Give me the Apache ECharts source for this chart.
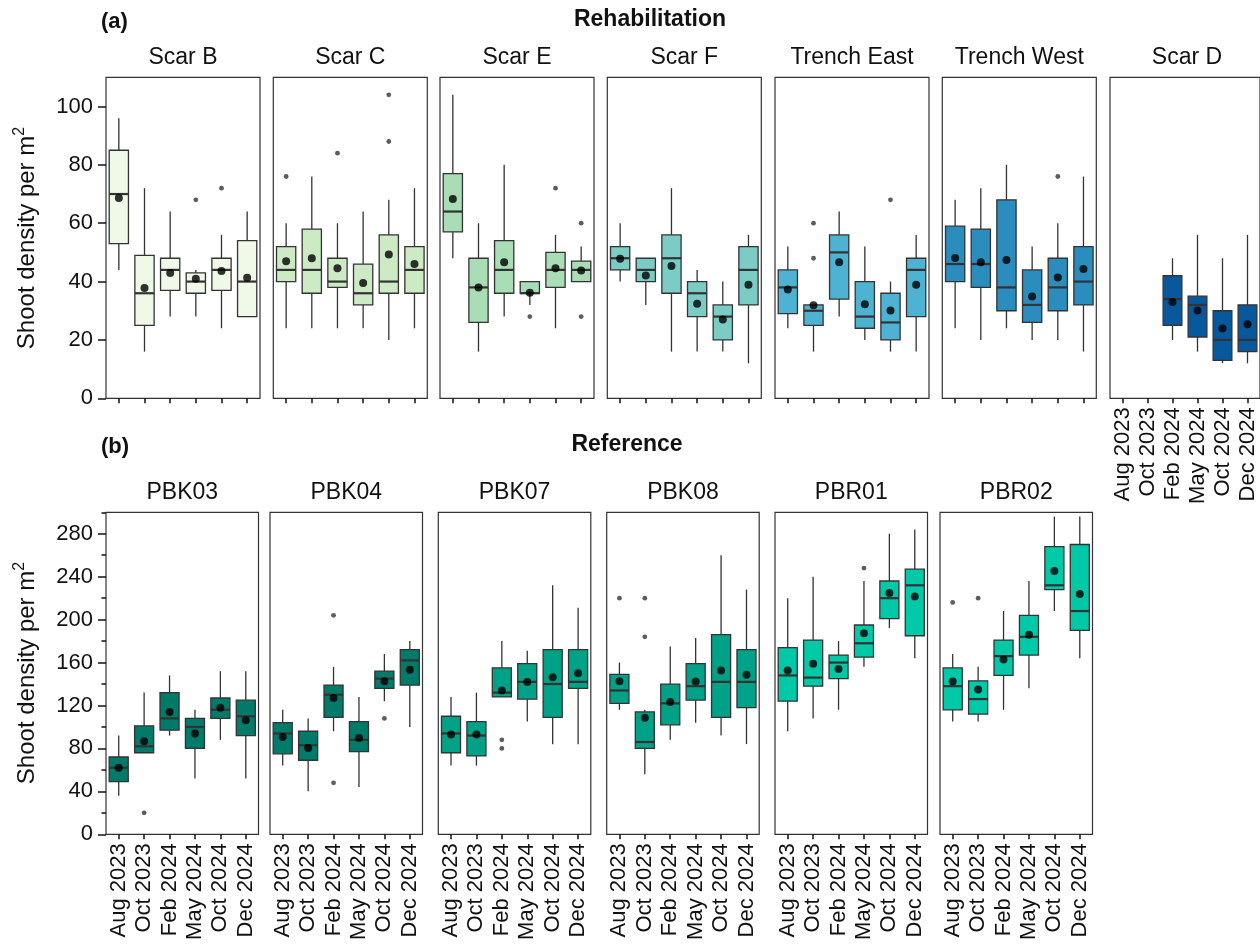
<!DOCTYPE html>
<html><head><meta charset="utf-8">
<script src="https://cdn.jsdelivr.net/npm/echarts@6/dist/echarts.min.js"></script>
<style>html,body{margin:0;padding:0;background:#fff}#c{width:1260px;height:946px}</style>
</head><body><div id="c"></div><script>
// ---------------- DATA ----------------
const months = ['Aug 2023','Oct 2023','Feb 2024','May 2024','Oct 2024','Dec 2024'];
const rehabSites = ['Scar B','Scar C','Scar E','Scar F','Trench East','Trench West','Scar D'];
const refSites = ['PBK03','PBK04','PBK07','PBK08','PBR01','PBR02'];
const rehabColors = ['#f0f9e8','#ccebc5','#a8ddb5','#7bccc4','#4eb3d3','#2b8cbe','#08589e'];
const refColors = ['#007a69','#007a69','#00a287','#00a287','#00c9a8','#00c9a8'];
const rehabTicks = [0,20,40,60,80,100];
const refTicks = [0,40,80,120,160,200,240,280];
const refMinorTicks = [20,60,100,140,180,220,260,300];

// box stats per month: [lower whisker, Q1, median, Q3, upper whisker]
const scarB = [[44,53,70,85,96],[16,25,36,49,72],[28,37,44,48,64],[28,36,40,43,44],[24,37,44,48,56],[28,28,40,54,64]];
const scarBMean = [68.6,37.8,42.9,41,43.6,41.3];
const scarBOut = [[3,68],[4,72]];

const scarC = [[24,40,44,52,60],[24,36,44,58,76],[24,38,40,48,60],[24,32,36,46,64],[20,36,40,56,68],[24,36,44,52,72]];
const scarCMean = [47,48,44.6,39.5,49.3,46];
const scarCOut = [[0,76],[2,84],[4,88],[4,104]];

const scarE = [[48,57,64,77,104],[16,26,38,48,60],[28,36,44,54,80],[32,36,36,40,40],[24,38,44,50,56],[40,40,44,47,52]];
const scarEMean = [68.3,38,46.6,36.2,44.6,43.8];
const scarEOut = [[3,28],[4,72],[5,60],[5,28]];

const scarF = [[40,44,48,52,60],[32,40,44,48,48],[16,36,48,56,72],[16,28,36,40,44],[16,20,28,32,40],[12,32,44,52,56]];
const scarFMean = [47.8,42.1,45.3,32.4,27,38.9];
const scarFOut = [];

const trenchEast = [[24,29,38,44,52],[16,25,30,32,32],[28,34,50,56,64],[20,24,28,40,52],[16,20,26,36,40],[16,28,44,48,56]];
const trenchEastMean = [37.3,31.9,46.6,32.2,30.1,38.9];
const trenchEastOut = [[1,48],[1,60],[4,68]];

const trenchWest = [[24,40,46,59,68],[20,38,46,58,72],[24,30,38,68,80],[20,26,32,44,52],[20,30,38,48,60],[16,32,40,52,76]];
const trenchWestMean = [48.1,46.6,47.4,34.9,41.4,44.3];
const trenchWestOut = [[4,76]];

const scarD = [null,null,[20,25,34,42,48],[16,21,32,35,56],[12,13,20,30,48],[12,16,20,32,56]];
const scarDMean = [null,null,33,30.1,23.9,25.4];
const scarDOut = [];

const pbk03 = [[36,49,62,72,92],[76,76,82,101,132],[92,97,108,132,148],[52,80,100,108,116],[88,108,116,127,152],[52,92,110,125,152]];
const pbk03Mean = [62,86.7,113.9,93.8,117.9,106.2];
const pbk03Out = [[1,20]];

const pbk04 = [[64,75,94,104,116],[40,69,83,96,108],[96,109,130,139,156],[44,77,88,105,128],[124,136,145,152,168],[100,139,162,172,180]];
const pbk04Mean = [90.7,80.5,126.9,89.8,142.7,153.2];
const pbk04Out = [[2,48],[2,204],[4,108]];

const pbk07 = [[64,76,94,110,128],[64,73,92,105,132],[128,128,132,155,180],[105,126,142,159,171],[84,109,140,172,232],[84,136,142,172,211]];
const pbk07Mean = [92.9,92.9,134,141.8,146.4,150.1];
const pbk07Out = [[2,80],[2,88]];

const pbk08 = [[116,122,134,149,160],[56,80,86,114,116],[88,102,122,140,175],[104,125,138,159,183],[92,109,142,186,260],[84,118,142,172,228]];
const pbk08Mean = [142.7,108.6,123.2,142.4,152.6,148.6];
const pbk08Out = [[0,220],[1,184],[1,220]];

const pbr01 = [[96,124,148,174,220],[108,138,146,181,240],[116,145,160,167,180],[156,165,178,195,236],[192,201,220,236,280],[164,185,232,247,284]];
const pbr01Mean = [152.6,158.8,154.1,187.2,224.7,221.6];
const pbr01Out = [[3,248]];

const pbr02 = [[105,116,138,155,168],[105,112,126,143,156],[116,148,166,181,208],[136,167,184,204,236],[208,228,232,268,296],[164,190,208,270,296]];
const pbr02Mean = [142.4,134.9,162.8,186,245.4,223.8];
const pbr02Out = [[0,216],[1,220]];

const rehabStats = [scarB, scarC, scarE, scarF, trenchEast, trenchWest, scarD];
const rehabMeans = [scarBMean, scarCMean, scarEMean, scarFMean, trenchEastMean, trenchWestMean, scarDMean];
const rehabOut = [scarBOut, scarCOut, scarEOut, scarFOut, trenchEastOut, trenchWestOut, scarDOut];
const refStats = [pbk03, pbk04, pbk07, pbk08, pbr01, pbr02];
const refMeans = [pbk03Mean, pbk04Mean, pbk07Mean, pbk08Mean, pbr01Mean, pbr02Mean];
const refOut = [pbk03Out, pbk04Out, pbk07Out, pbk08Out, pbr01Out, pbr02Out];

// ---------------- LAYOUT ----------------
const FONT = "'Liberation Sans', Arial, sans-serif";
const TXT = '#111';
const EDGE = '#333';
const topRow = {lefts:[106,273.3,440,607.3,775,942.3,1110], width:154, top:77.3, height:321, max:110};
const botRow = {lefts:[106,270,438.3,606.7,775,940], width:152.5, top:512.3, height:322, max:300};

const grids = [], xAxes = [], yAxes = [], series = [], graphics = [];

function makeRender(color){
  return function(params, api){
    const x = api.value(0);
    const lo = api.coord([x, api.value(1)]);
    const q1 = api.coord([x, api.value(2)]);
    const md = api.coord([x, api.value(3)]);
    const q3 = api.coord([x, api.value(4)]);
    const hi = api.coord([x, api.value(5)]);
    const bw = api.size([1, 0])[0] * 0.75;
    const cx = lo[0];
    return {type:'group', children:[
      {type:'line', shape:{x1:cx,y1:hi[1],x2:cx,y2:q3[1]}, style:{stroke:EDGE,lineWidth:1.3}},
      {type:'line', shape:{x1:cx,y1:q1[1],x2:cx,y2:lo[1]}, style:{stroke:EDGE,lineWidth:1.3}},
      {type:'rect', shape:{x:cx-bw/2,y:q3[1],width:bw,height:q1[1]-q3[1]}, style:{fill:color,stroke:EDGE,lineWidth:1.3}},
      {type:'line', shape:{x1:cx-bw/2,y1:md[1],x2:cx+bw/2,y2:md[1]}, style:{stroke:EDGE,lineWidth:2.2}}
    ]};
  };
}

function addPanel(row, i, name, color, stats, means, outs, opts){
  const g = grids.length;
  grids.push({left:row.lefts[i], top:row.top, width:row.width, height:row.height,
    show:true, borderColor:EDGE, borderWidth:1.2, backgroundColor:'transparent', containLabel:false});
  xAxes.push({gridIndex:g, type:'category', data:months, boundaryGap:true,
    axisLine:{show:false},
    axisTick:{show:true, alignWithLabel:true, length:5, lineStyle:{color:TXT, width:1.5}},
    axisLabel:{show:opts.xLabels, interval:0, rotate:90, fontSize:22, fontFamily:FONT, color:TXT, margin:9},
    splitLine:{show:false}});
  const yi = yAxes.length;
  yAxes.push({gridIndex:g, type:'value', min:0, max:row.max, position:'left',
    axisLine:{show:false},
    axisTick:{show:opts.yLabels, length:8, customValues:opts.ticks, lineStyle:{color:TXT, width:1.5}},
    axisLabel:{show:opts.yLabels, customValues:opts.ticks, fontSize:22, fontFamily:FONT, color:TXT, margin:13},
    splitLine:{show:false}});
  if (opts.minor){
    yAxes.push({gridIndex:g, type:'value', min:0, max:row.max, position:'left',
      axisLine:{show:false},
      axisTick:{show:true, length:4.5, customValues:opts.minor, lineStyle:{color:TXT, width:1.5}},
      axisLabel:{show:false}, splitLine:{show:false}});
  }
  const boxData = [];
  stats.forEach((s, m) => { if (s) boxData.push([m, s[0], s[1], s[2], s[3], s[4]]); });
  series.push({type:'custom', xAxisIndex:g, yAxisIndex:yi, data:boxData, renderItem:makeRender(color),
    encode:{x:0, y:[1,2,3,4,5]}, silent:true, z:2});
  series.push({type:'scatter', xAxisIndex:g, yAxisIndex:yi, symbol:'circle', symbolSize:4.8,
    itemStyle:{color:EDGE}, data:outs.map(o => [o[0], o[1]]), silent:true, z:3});
  const meanData = [];
  means.forEach((v, m) => { if (v != null) meanData.push([m, v]); });
  series.push({type:'scatter', xAxisIndex:g, yAxisIndex:yi, symbol:'circle', symbolSize:8,
    itemStyle:{color:'#000'}, data:meanData, silent:true, z:4});
  graphics.push({type:'text', x:row.lefts[i] + row.width/2, y:opts.stripY,
    style:{text:name, fontSize:23, fontFamily:FONT, fill:TXT, align:'center', verticalAlign:'middle'}});
}

rehabSites.forEach((s, i) => addPanel(topRow, i, s, rehabColors[i], rehabStats[i], rehabMeans[i], rehabOut[i],
  {xLabels: i === 6, yLabels: i === 0, ticks: rehabTicks, stripY: 57.5}));
refSites.forEach((s, i) => addPanel(botRow, i, s, refColors[i], refStats[i], refMeans[i], refOut[i],
  {xLabels: true, yLabels: i === 0, ticks: refTicks, minor: i === 0 ? refMinorTicks : null, stripY: 492.5}));

function yTitle(yc){
  return {type:'text', x:27, y:yc, rotation:Math.PI/2,
    style:{text:'{a|Shoot density per m}{b|2}', align:'center', verticalAlign:'middle',
      rich:{a:{fontSize:24, fontFamily:FONT, fill:TXT, lineHeight:30},
            b:{fontSize:16, fontFamily:FONT, fill:TXT, verticalAlign:'top'}}}};
}
graphics.push(yTitle(238));
graphics.push(yTitle(673));
graphics.push({type:'text', x:101, y:22, style:{text:'(a)', fontSize:22, fontWeight:'bold', fontFamily:FONT, fill:TXT, align:'left', verticalAlign:'middle'}});
graphics.push({type:'text', x:650, y:20, style:{text:'Rehabilitation', fontSize:23, fontWeight:'bold', fontFamily:FONT, fill:TXT, align:'center', verticalAlign:'middle'}});
graphics.push({type:'text', x:101, y:447, style:{text:'(b)', fontSize:22, fontWeight:'bold', fontFamily:FONT, fill:TXT, align:'left', verticalAlign:'middle'}});
graphics.push({type:'text', x:627, y:445, style:{text:'Reference', fontSize:23, fontWeight:'bold', fontFamily:FONT, fill:TXT, align:'center', verticalAlign:'middle'}});

const chart = echarts.init(document.getElementById('c'), null, {renderer:'canvas', width:1260, height:946});
chart.setOption({
  animation:false,
  backgroundColor:'#fff',
  textStyle:{fontFamily:FONT},
  grid:grids, xAxis:xAxes, yAxis:yAxes, series:series, graphic:graphics
});
</script></body></html>
